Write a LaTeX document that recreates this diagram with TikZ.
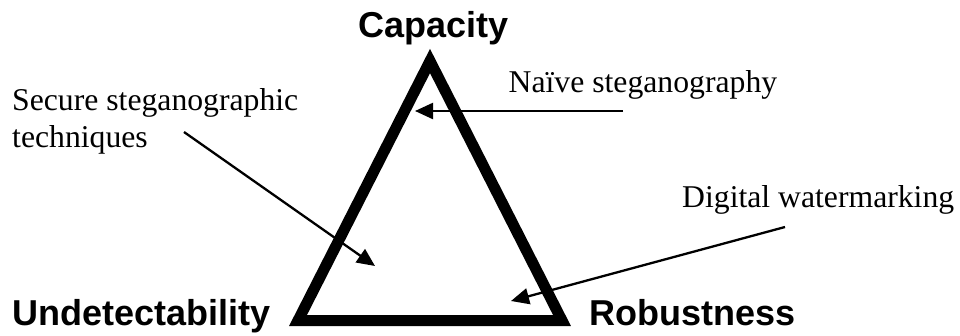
\documentclass[tikz,border=0pt]{standalone}
\usepackage{fontspec}
\setmainfont{Liberation Serif}
\newfontfamily\labelsans{Liberation Sans}
\usetikzlibrary{arrows.meta}
\tikzset{
  corner/.style={font=\labelsans\bfseries\fontsize{36}{40}\selectfont, inner sep=0pt, anchor=base west},
  note/.style={font=\fontsize{31.7}{36.5}\selectfont, inner sep=0pt, anchor=base west},
  pointer/.style={line width=2.3pt, -{Triangle[length=18pt,width=16pt]}},
  tri/.style={line width=11pt, line join=miter}
}
\begin{document}
\begin{tikzpicture}[x=1pt,y=-1pt]
\useasboundingbox (0,0) rectangle (960,335);
% triangle
\coordinate (top) at (430,61);
\coordinate (bl) at (298,320.5);
\coordinate (br) at (562,320.5);
\draw[tri] (top) -- (bl) -- (br) -- cycle;
% corner labels
\node[corner] (cap) at (358,37) {Capacity};
\node[corner] (und) at (12,325.5) {Undetectability};
\node[corner] (rob) at (589,325.5) {Robustness};
% notes
\node[note] (nai) at (508.5,92.5) {Naïve steganography};
\node[note] (sec1) at (12,110.5) {Secure steganographic};
\node[note] (sec2) at (12,147) {techniques};
\node[note] (dig) at (682,207.5) {Digital watermarking};
% arrows
\coordinate (naiS) at (623,111);
\coordinate (naiT) at (415,111);
\coordinate (secS) at (184,132);
\coordinate (secT) at (375,266);
\coordinate (digS) at (785,227);
\coordinate (digT) at (511,301);
\draw[pointer] (naiS) -- (naiT);
\draw[pointer] (secS) -- (secT);
\draw[pointer] (digS) -- (digT);
\end{tikzpicture}
\end{document}
